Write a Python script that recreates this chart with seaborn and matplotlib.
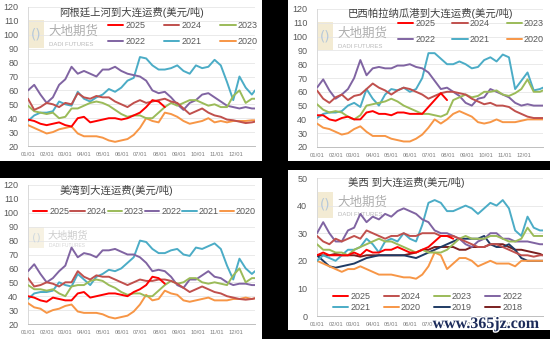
import numpy as np
import matplotlib
matplotlib.use("Agg")
import matplotlib.pyplot as plt
import seaborn as sns
from matplotlib.patches import Rectangle
import matplotlib.patheffects as pe

sns.set_style("white")
plt.rcParams['font.family'] = ['Liberation Sans', 'Noto Sans CJK SC', 'DejaVu Sans']

W, H = 550, 339

DAYS = list(range(0, 361, 10)) + [365]
MONTH_TICKS = [0, 31, 59, 90, 120, 151, 181, 212, 243, 273, 304, 334]
MONTH_LABELS = ['01/01', '02/01', '03/01', '04/01', '05/01', '06/01',
                '07/01', '08/01', '09/01', '10/01', '11/01', '12/01']

YEARS6 = ['2025', '2024', '2023', '2022', '2021', '2020']
YEARS8 = YEARS6 + ['2019', '2018']
COLORS = {'2025': '#ff0000', '2024': '#c0504d', '2023': '#9bbb59', '2022': '#8064a2',
          '2021': '#4bacc6', '2020': '#f79646', '2019': '#1f3b64', '2018': '#7a1f1f'}

TITLE1 = '阿根廷上河到大连运费(美元/吨)'
TITLE2 = '巴西帕拉纳瓜港到大连运费(美元/吨)'
TITLE3 = '美湾到大连运费(美元/吨)'
TITLE4 = '美西 到大连运费(美元/吨)'

# Panel 1: Argentina upriver
ARG_2025 = [39, 38, 36, 35, 36, 37, 35, 34, 40, 41, 37, 38, 39, 40, 40, 39, 40, 42, 44, 48,
            53, 52, 48] + [None] * 15
ARG_2024 = [54, 46, 48, 51, 50, 48, 51, 50, 58, 55, 54, 56, 55, 55, 52, 50, 48, 51, 53, 51,
            52, 53, 54, 52, 51, 47, 43, 45, 47, 44, 42, 41, 39, 38.5, 37.5, 36.5, 37, 37.5]
ARG_2023 = [49, 45, 44, 43, 44, 40, 41, 47, 47, 49, 51, 52, 51, 49, 46, 43, 41, 42, 42, 40,
            40, 44, 48, 51, 49, 51, 53, 53, 51, 49, 50, 48, 48, 56, 60, 51, 54, 54]
ARG_2022 = [60, 64, 57, 51, 55, 64, 68, 77, 72, 74, 72, 70, 75, 75, 77, 74, 72, 71, 70, 67,
            60, 58, 59, 55, 50, 46, 51, 53, 57, 58, 55, 52, 49, 48, 47, 48, 47, 47]
ARG_2021 = [38, 42, 44, 44, 45, 52, 50, 49, 59, 54, 52, 55, 57, 61, 59, 62, 67, 69, 84, 83,
            78, 75, 75, 76, 78, 74, 72, 78, 76, 77, 82, 78, 66, 53, 70, 62, 57, 60]
ARG_2020 = [35, 33, 31, 29, 30, 32, 33, 34, 29, 27, 27, 27, 26, 24, 23, 24, 25, 28, 33, 40,
            38, 37, 44, 43, 41, 38, 36, 37, 38, 40, 37, 38, 37, 38, 38, 38, 38.5, 38.5]

# Panel 2: Brazil Paranagua
BRA_2025 = [43, 43, 40, 39, 41, 42, 40, 40, 45, 46, 44, 44, 43, 45, 45, 44, 44, 44, 49, 54,
            59, 54] + [None] * 16
BRA_2024 = [61, 55, 52, 56, 58, 54, 57, 58, 62, 66, 63, 61, 58, 61, 63, 62, 60, 58, 55, 57,
            59, 60, 60, 59, 58, 55, 53, 51, 52, 50, 50, 49, 46, 44, 42, 41, 41, 41]
BRA_2023 = [51, 47, 45, 46, 45, 42, 40, 43, 50, 51, 52, 53, 55, 53, 50, 48, 46, 44, 44, 43,
            42, 44, 54, 56, 58, 56, 57, 60, 60, 61, 58, 57, 59, 62, 69, 60, 60, 61]
BRA_2022 = [63, 69, 61, 55, 58, 62, 70, 83, 72, 77, 78, 77, 77, 79, 79, 80, 78, 77, 74, 68,
            62, 63, 60, 57, 52, 50, 55, 56, 62, 60, 58, 56, 52, 50, 51, 50, 50, 50]
BRA_2021 = [41, 44, 45, 45, 46, 50, 52, 49, 62, 55, 50, 58, 62, 61, 63, 60, 62, 70, 88, 88,
            84, 80, 80, 82, 80, 77, 78, 83, 85, 82, 87, 85, 62, 68, 74, 61, 62, 63]
BRA_2020 = [37, 34, 33, 31, 29, 30, 33, 35, 31, 28, 28, 28, 26, 25, 24, 24, 26, 29, 34, 40,
            37, 40, 44, 46, 44, 42, 38, 37, 38, 40, 38, 38, 38, 39, 40, 40, 40, 40]

# Panel 3: US Gulf
GULF_2025 = [40, 39, 37, 36, 39, 38, 37, 37, 42, 43, 39, 40, 41, 42, 42, 41, 40, 43, 45, 48,
             54, 53, 49] + [None] * 15
GULF_2024 = [53, 47, 48, 50, 49, 47, 50, 50, 58, 54, 52, 55, 54, 54, 52, 50, 48, 50, 52, 51,
             51, 52, 52, 51, 49, 46, 43, 45, 47, 45, 43, 42, 40, 39, 38, 37.5, 38, 38.5]
GULF_2023 = [48, 45, 45, 44, 45, 42, 40, 47, 48, 48, 51, 52, 51, 48, 46, 43, 41, 42, 42, 40,
             40, 44, 48, 51, 49, 50, 53, 53, 50, 49, 50, 49, 48, 55, 60, 50, 53, 53]
GULF_2022 = [58, 63, 56, 50, 53, 58, 62, 75, 68, 71, 70, 68, 73, 73, 74, 72, 70, 70, 68, 64,
             58, 59, 58, 54, 48, 46, 52, 52, 55, 58, 54, 53, 50, 48, 49, 49, 48, 48]
GULF_2021 = [38, 42, 43, 43, 44, 50, 48, 47, 56, 52, 48, 54, 56, 59, 58, 60, 64, 68, 80, 79,
             74, 71, 71, 73, 74, 70, 69, 75, 74, 76, 78, 74, 62, 52, 67, 60, 56, 58]
GULF_2020 = [35, 32, 31, 28, 30, 31, 33, 34, 29, 28, 28, 28, 27, 25, 24, 25, 26, 29, 34, 41,
             37, 38, 44, 42, 41, 37, 36, 37, 38, 39, 37, 37, 37, 38, 38, 39, 38, 38.5]

# Panel 4: US West coast
WEST_2025 = [22, 23, 22, 22, 22, 22, 23, 22, 24, 23, 23, 24, 24, 25, 24, 23, 23, 24, 25, 27,
             29, 29, 28] + [None] * 15
WEST_2024 = [29, 27, 26, 28, 27, 28, 29, 28, 31, 30, 29, 28, 29, 29, 30, 29, 29, 30, 30, 30,
             29, 29, 29, 28, 27, 26, 25, 25, 26, 26, 25, 24, 23, 22, 22, 21.5, 22, 22]
WEST_2023 = [26, 24, 24, 23, 23, 22, 24, 25, 26, 27, 28, 27, 27, 26, 25, 24, 23, 24, 23, 23,
             23, 24, 26, 28, 29, 28, 28, 28, 29, 29, 28, 27, 27, 28, 32, 29, 29, 29]
WEST_2022 = [30, 34, 30, 27, 27, 31, 32, 37, 34, 36, 35, 37, 36, 38, 39, 38, 37, 35, 34, 31,
             30, 30, 29, 28, 26, 25, 27, 28, 30, 30, 28, 28, 27, 27, 27, 26.5, 26, 26]
WEST_2021 = [20, 22, 21, 20, 22, 24, 24, 25, 28, 26, 23, 27, 28, 27, 30, 28, 27, 33, 41, 42,
             41, 38, 38, 39, 40, 39, 37, 39, 41, 40, 42, 39, 31, 29, 36, 32, 31, 31]
WEST_2020 = [20, 19, 18, 17, 16, 17, 17, 18, 17, 16, 15, 15, 15, 14.5, 14, 14, 13.5, 15, 18, 23,
             22, 17, 19, 21, 21, 20, 18, 19, 20, 19, 19, 19, 18, 20, 20, 20, 20, 20]
WEST_2019 = [22, 20, 18, 17.5, 18, 18.5, 19, 20, 21, 21.5, 22, 22, 22, 22, 22, 21.5, 21, 22, 23, 24,
             25, 26, 27, 28, 28, 28, 28, 29, 26, 25, 25, 26, 24, 21, 20, 20, 20, 20]
WEST_2018 = [22, 22, 22, 22.5, 22, 22, 22, 21.5, 22, 22, 22, 22, 22, 22, 22, 22.5, 23, 24, 24, 25,
             25, 25, 25, 24, 24, 25, 25, 25, 26, 26, 26, 25, 24, 24, 23.5, 23, 22.5, 22]

fig = plt.figure(figsize=(5.5, 3.39), dpi=100, facecolor='black')


def frect(x0, y0, x1, y1):
    return [x0 / W, 1 - y1 / H, (x1 - x0) / W, (y1 - y0) / H]


def fx(x):
    return x / W


def fy(y):
    return 1 - y / H


# white panels on black background
for (x0, y0, x1, y1) in [(0, 0, 262, 161), (288, 0, 550, 161), (0, 178, 262, 339), (288, 170, 550, 330)]:
    r = frect(x0, y0, x1, y1)
    fig.patches.append(Rectangle((r[0], r[1]), r[2], r[3], transform=fig.transFigure,
                                 facecolor='white', edgecolor='none', zorder=-2))


def setup(ax, ylim, yticks):
    ax.set_facecolor('none')
    ax.set_xlim(0, 365)
    ax.set_ylim(*ylim)
    ax.set_yticks(yticks)
    ax.set_xticks(MONTH_TICKS)
    ax.set_xticklabels(MONTH_LABELS)
    ax.tick_params(axis='x', direction='in', length=2.5, width=0.6, color='#bfbfbf',
                   labelsize=4.2, labelcolor='#7f7f7f', pad=4)
    ax.tick_params(axis='y', length=0, labelsize=6.5, labelcolor='#595959', pad=7)
    for s in ['top', 'right']:
        ax.spines[s].set_visible(False)
    ax.spines['left'].set_color('#d9d9d9')
    ax.spines['left'].set_linewidth(0.7)
    ax.spines['bottom'].set_color('#bfbfbf')
    ax.spines['bottom'].set_linewidth(0.7)
    ax.grid(axis='y', color='#e6e6e6', linewidth=0.6)
    ax.grid(axis='x', visible=False)
    ax.set_axisbelow(True)


def draw(ax, series, years):
    handles = {}
    n = len(series)
    for i, (yr, vals) in enumerate(zip(years, series)):
        y = np.array([np.nan if v is None else v for v in vals], dtype=float)
        sns.lineplot(x=np.array(DAYS, dtype=float), y=y, color=COLORS[yr], linewidth=1.4,
                     ax=ax, legend=False, zorder=3 + n - i)
        handles[yr] = ax.lines[-1]
    ax.set_xlabel('')
    ax.set_ylabel('')
    return handles


def legend(ax, handles, years, x, y, ncol, colsp, labsp, hlen=1.7):
    # matplotlib fills legend columns first; reorder so that rows read left to right
    nrow = int(np.ceil(len(years) / ncol))
    order = [years[r * ncol + c] for c in range(ncol) for r in range(nrow) if r * ncol + c < len(years)]
    leg = ax.legend([handles[k] for k in order], order, ncol=ncol, loc='upper left',
                    bbox_to_anchor=(fx(x), fy(y)), bbox_transform=fig.transFigure,
                    frameon=False, fontsize=6.5, handlelength=hlen, handletextpad=0.2,
                    columnspacing=colsp, labelspacing=labsp, borderpad=0, borderaxespad=0)
    for t in leg.get_texts():
        t.set_color('#595959')


def watermark(ax, lx, ly, lh, size, alpha):
    r = frect(lx, ly, lx + 16, ly + lh)
    ax.add_patch(Rectangle((r[0], r[1]), r[2], r[3], transform=fig.transFigure,
                           facecolor='#f1e6c8', edgecolor='none', alpha=alpha, zorder=0.5))
    ax.text(fx(lx + 8), fy(ly + lh / 2), '()', transform=fig.transFigure, ha='center', va='center',
            fontsize=size * 1.1, color='#a9c1da', alpha=alpha, zorder=0.6, family=['DejaVu Sans'])
    ax.text(fx(lx + 20), fy(ly + lh * 0.4), '大地期货', transform=fig.transFigure, ha='left',
            va='center', fontsize=size, color='#9a9a9a', alpha=alpha, zorder=0.6,
            family=['Noto Sans CJK SC'])
    ax.text(fx(lx + 21), fy(ly + lh * 0.86), 'DADI FUTURES', transform=fig.transFigure, ha='left',
            va='center', fontsize=size * 0.48, color='#a8a8a8', alpha=alpha, zorder=0.6)


# Panel 1
ax1 = fig.add_axes(frect(28, 7, 255, 146))
setup(ax1, (20, 120), range(20, 121, 10))
h1 = draw(ax1, [ARG_2025, ARG_2024, ARG_2023, ARG_2022, ARG_2021, ARG_2020], YEARS6)
legend(ax1, h1, YEARS6, 108, 21, 3, 2.1, 0.75)
watermark(ax1, 28, 20, 28, 9, 0.8)
fig.text(fx(132), fy(13), TITLE1, ha='center', va='center', fontsize=7.5, color='#404040')

# Panel 2
ax2 = fig.add_axes(frect(317, 9, 543, 147))
setup(ax2, (20, 120), range(20, 121, 10))
h2 = draw(ax2, [BRA_2025, BRA_2024, BRA_2023, BRA_2022, BRA_2021, BRA_2020], YEARS6)
legend(ax2, h2, YEARS6, 398, 19.5, 3, 1.9, 0.75)
watermark(ax2, 317, 22, 28, 9, 0.8)
fig.text(fx(430), fy(13), TITLE2, ha='center', va='center', fontsize=7.5, color='#404040')

# Panel 3
ax3 = fig.add_axes(frect(28, 185, 255, 324))
setup(ax3, (20, 120), range(20, 121, 10))
h3 = draw(ax3, [GULF_2025, GULF_2024, GULF_2023, GULF_2022, GULF_2021, GULF_2020], YEARS6)
legend(ax3, h3, YEARS6, 33, 207.5, 6, 0.12, 0.5, hlen=1.6)
watermark(ax3, 28, 227, 21, 7.3, 0.5)
fig.text(fx(116), fy(191), TITLE3, ha='center', va='center', fontsize=7.5, color='#404040')

# Panel 4
ax4 = fig.add_axes(frect(317, 178, 543, 316))
setup(ax4, (0, 50), range(0, 51, 10))
h4 = draw(ax4, [WEST_2025, WEST_2024, WEST_2023, WEST_2022, WEST_2021, WEST_2020,
                WEST_2019, WEST_2018], YEARS8)
legend(ax4, h4, YEARS8, 333, 292, 4, 1.5, 0.25)
watermark(ax4, 317, 192, 26, 9, 0.8)
fig.text(fx(406), fy(183), TITLE4, ha='center', va='center', fontsize=7.5, color='#404040')

fig.text(fx(486), fy(324), 'www.365jz.com', ha='center', va='center', fontsize=11.5,
         fontweight='bold', color='#1c2b5a', family=['Liberation Serif'],
         path_effects=[pe.withStroke(linewidth=2, foreground='white')], zorder=20)

fig.savefig('out.png', dpi=100, facecolor=fig.get_facecolor())
